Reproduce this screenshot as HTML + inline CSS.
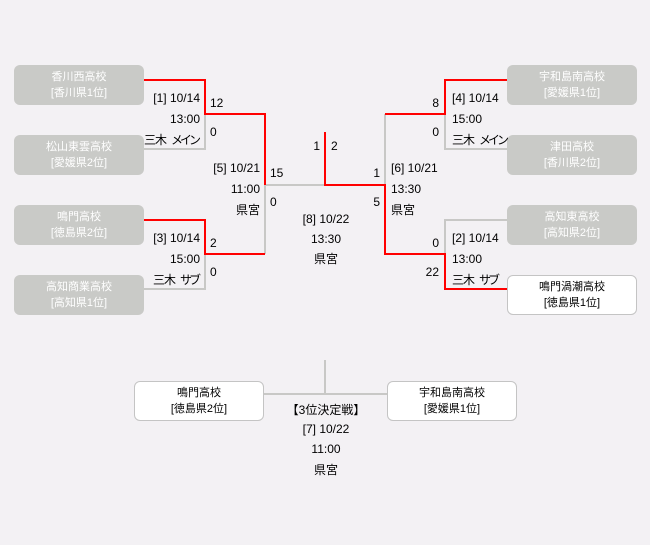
<!DOCTYPE html>
<html><head><meta charset="utf-8">
<style>
html,body{margin:0;padding:0;}
body{width:650px;height:545px;background:#f3f1f4;position:relative;overflow:hidden;font-family:"Liberation Sans","Noto Sans CJK JP",sans-serif;color:#000;}
.box{position:absolute;width:130px;height:40px;border-radius:6px;box-sizing:border-box;text-align:center;font-size:11px;}
.g{background:#c9cac7;color:#fff;}
.w{background:#fff;border:1px solid #c4c4c4;color:#000;}
.box div{position:absolute;left:0;right:0;height:14px;line-height:14px;}
.box .l1{top:5px;}
.box .l2{top:21px;}
.w .l1{top:4px;}
.w .l2{top:20px;}
.t{position:absolute;height:16px;line-height:16px;font-size:12px;white-space:nowrap;}
.r{text-align:right;}
.c{text-align:center;width:120px;}
.a{letter-spacing:-1px;margin-right:5px;}
.b{letter-spacing:-3px;}
svg{position:absolute;left:0;top:0;}
</style></head><body>
<svg width="650" height="545" viewBox="0 0 650 545">
<g fill="none" stroke-width="2" stroke-linejoin="miter">
<path d="M205 114 V149 H144" stroke="#c8c8c6"/>
<path d="M205 254 V289 H144" stroke="#c8c8c6"/>
<path d="M265 254 V185 H325" stroke="#c8c8c6"/>
<path d="M385 185 V114" stroke="#c8c8c6"/>
<path d="M445 114 V149 H507" stroke="#c8c8c6"/>
<path d="M445 254 V220 H507" stroke="#c8c8c6"/>
<path d="M325 360 V394 M264 394 H387" stroke="#c8c8c6"/>
<path d="M144 80 H205 V114 H265 V185" stroke="#f00"/>
<path d="M144 220 H205 V254 H265" stroke="#f00"/>
<path d="M325 132 V185 H385 V254 H445 V289 H507" stroke="#f00"/>
<path d="M385 114 H445 V80 H507" stroke="#f00"/>
</g>
</svg>

<div class="box g" style="left:14px;top:65px;"><div class="l1">香川西高校</div><div class="l2">[香川県1位]</div></div>
<div class="box g" style="left:14px;top:135px;"><div class="l1">松山東雲高校</div><div class="l2">[愛媛県2位]</div></div>
<div class="box g" style="left:14px;top:205px;"><div class="l1">鳴門高校</div><div class="l2">[徳島県2位]</div></div>
<div class="box g" style="left:14px;top:275px;"><div class="l1">高知商業高校</div><div class="l2">[高知県1位]</div></div>

<div class="box g" style="left:507px;top:65px;"><div class="l1">宇和島南高校</div><div class="l2">[愛媛県1位]</div></div>
<div class="box g" style="left:507px;top:135px;"><div class="l1">津田高校</div><div class="l2">[香川県2位]</div></div>
<div class="box g" style="left:507px;top:205px;"><div class="l1">高知東高校</div><div class="l2">[高知県2位]</div></div>
<div class="box w" style="left:507px;top:275px;"><div class="l1">鳴門渦潮高校</div><div class="l2">[徳島県1位]</div></div>

<div class="box w" style="left:134px;top:381px;"><div class="l1">鳴門高校</div><div class="l2">[徳島県2位]</div></div>
<div class="box w" style="left:387px;top:381px;"><div class="l1">宇和島南高校</div><div class="l2">[愛媛県1位]</div></div>

<!-- [1] -->
<div class="t r" style="right:450px;top:90px;">[1] 10/14</div>
<div class="t r" style="right:450px;top:111px;">13:00</div>
<div class="t r" style="right:452px;top:132px;"><span class="a">三木</span><span class="b">メイン</span></div>
<div class="t" style="left:210px;top:95px;">12</div>
<div class="t" style="left:210px;top:124px;">0</div>
<!-- [3] -->
<div class="t r" style="right:450px;top:230px;">[3] 10/14</div>
<div class="t r" style="right:450px;top:251px;">15:00</div>
<div class="t r" style="right:452px;top:272px;"><span class="a">三木</span><span class="b">サブ</span></div>
<div class="t" style="left:210px;top:235px;">2</div>
<div class="t" style="left:210px;top:264px;">0</div>
<!-- [5] -->
<div class="t r" style="right:390px;top:160px;">[5] 10/21</div>
<div class="t r" style="right:390px;top:181px;">11:00</div>
<div class="t r" style="right:390px;top:202px;">県宮</div>
<div class="t" style="left:270px;top:165px;">15</div>
<div class="t" style="left:270px;top:194px;">0</div>
<!-- final -->
<div class="t r" style="right:330px;top:138px;">1</div>
<div class="t" style="left:331px;top:138px;">2</div>
<div class="t c" style="left:266px;top:211px;">[8] 10/22</div>
<div class="t c" style="left:266px;top:231px;">13:30</div>
<div class="t c" style="left:266px;top:251px;">県宮</div>
<!-- [6] -->
<div class="t r" style="right:270px;top:165px;">1</div>
<div class="t r" style="right:270px;top:194px;">5</div>
<div class="t" style="left:391px;top:160px;">[6] 10/21</div>
<div class="t" style="left:391px;top:181px;">13:30</div>
<div class="t" style="left:391px;top:202px;">県宮</div>
<!-- [4] -->
<div class="t r" style="right:211px;top:95px;">8</div>
<div class="t r" style="right:211px;top:124px;">0</div>
<div class="t" style="left:452px;top:90px;">[4] 10/14</div>
<div class="t" style="left:452px;top:111px;">15:00</div>
<div class="t" style="left:452px;top:132px;"><span class="a">三木</span><span class="b">メイン</span></div>
<!-- [2] -->
<div class="t r" style="right:211px;top:235px;">0</div>
<div class="t r" style="right:211px;top:264px;">22</div>
<div class="t" style="left:452px;top:230px;">[2] 10/14</div>
<div class="t" style="left:452px;top:251px;">13:00</div>
<div class="t" style="left:452px;top:272px;"><span class="a">三木</span><span class="b">サブ</span></div>
<!-- [7] -->
<div class="t c" style="left:266px;top:402px;">【3位決定戦】</div>
<div class="t c" style="left:266px;top:421px;">[7] 10/22</div>
<div class="t c" style="left:266px;top:441px;">11:00</div>
<div class="t c" style="left:266px;top:462px;">県宮</div>
</body></html>
